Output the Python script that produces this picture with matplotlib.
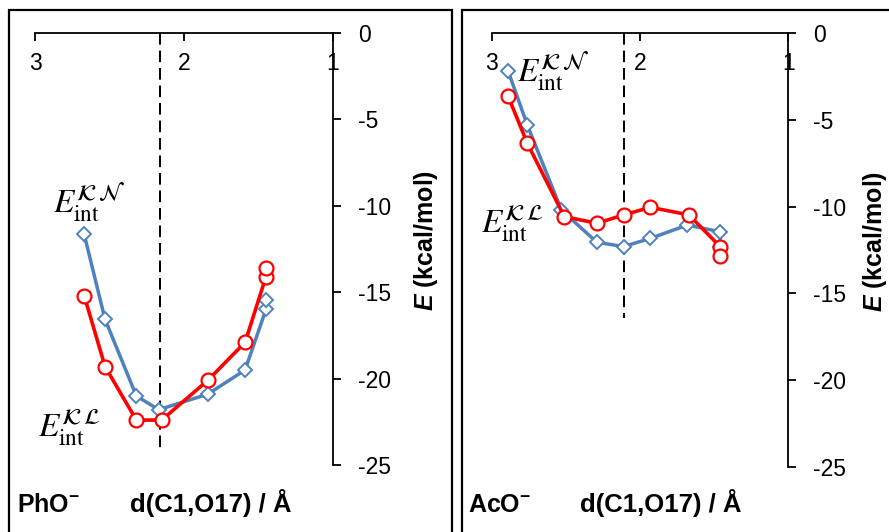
import matplotlib
matplotlib.use("Agg")
import matplotlib.pyplot as plt
from matplotlib.patches import Rectangle

plt.rcParams['font.family'] = ['Liberation Sans', 'DejaVu Sans']
plt.rcParams['mathtext.fontset'] = 'custom'
plt.rcParams['mathtext.it'] = 'Liberation Sans:italic:bold'
plt.rcParams['mathtext.rm'] = 'Liberation Sans:bold'
plt.rcParams['mathtext.bf'] = 'Liberation Sans:bold'

# PhO- panel
pho_x_kn = [2.67, 2.53, 2.32, 2.17, 1.84, 1.59, 1.45, 1.45]
pho_e_kn = [-11.65, -16.57, -21.0, -21.8, -20.9, -19.5, -16.0, -15.45]
pho_x_kl = [2.67, 2.53, 2.32, 2.15, 1.84, 1.59, 1.45, 1.45]
pho_e_kl = [-15.2, -19.3, -22.4, -22.4, -20.1, -17.9, -14.1, -13.6]
pho_ts = 2.16
pho_ts_bottom = -24.1

# AcO- panel
aco_x_kn = [2.89, 2.76, 2.53, 2.29, 2.11, 1.93, 1.68, 1.46, 1.46]
aco_e_kn = [-2.17, -5.3, -10.2, -12.06, -12.3, -11.83, -11.06, -11.45, -12.3]
aco_x_kl = [2.89, 2.76, 2.51, 2.29, 2.11, 1.93, 1.67, 1.46, 1.46]
aco_e_kl = [-3.63, -6.35, -10.58, -10.96, -10.48, -10.04, -10.48, -12.3, -12.83]
aco_ts = 2.105
aco_ts_bottom = -16.4

x_ticks = [3, 2, 1]
y_ticks = [0, -5, -10, -15, -20, -25]

lbl_kn = r'$E_{\mathrm{int}}^{\mathcal{K}\,\mathcal{N}}$'
lbl_kl = r'$E_{\mathrm{int}}^{\mathcal{K}\,\mathcal{L}}$'

BLUE = '#4F81BD'
RED = '#FF0000'

fig = plt.figure(figsize=(8.89, 5.32), dpi=100)

# panel frames
fig.patches.append(Rectangle((8.5 / 889, -0.1), (451.5 - 8.5) / 889, 1.1 - 10.5 / 532,
                             transform=fig.transFigure, fill=False, lw=1.6, ec='black'))
fig.patches.append(Rectangle((462 / 889, -0.1), 0.6, 1.1 - 10.5 / 532,
                             transform=fig.transFigure, fill=False, lw=1.6, ec='black'))


def panel(rect, xs_kn, es_kn, xs_kl, es_kl, ts, ts_bottom, kn_pos, kl_pos, ylabel_x):
    ax = fig.add_axes(rect)
    ax.set_xlim(3, 1)
    ax.set_ylim(-25, 0)
    ax.patch.set_alpha(0)
    for s in ['left', 'top']:
        ax.spines[s].set_visible(False)
    ax.spines['bottom'].set_position(('data', 0))
    ax.spines['bottom'].set_linewidth(1.3)
    ax.spines['right'].set_linewidth(1.3)
    ax.yaxis.tick_right()
    ax.yaxis.set_label_position('right')
    ax.set_xticks(x_ticks)
    ax.set_yticks(y_ticks)
    ax.set_yticklabels([str(v) for v in y_ticks])
    ax.tick_params(axis='x', direction='out', length=6, width=1.3, pad=8, labelsize=16.5)
    ax.tick_params(axis='y', direction='out', length=6, width=1.3, pad=12, labelsize=16.5)

    ax.plot([ts, ts], [0, ts_bottom], color='black', lw=1.4, ls=(0, (6, 3)), zorder=2)
    ax.plot(xs_kn, es_kn, color=BLUE, lw=2.5, marker='D', ms=7.5, mfc='white',
            mec=BLUE, mew=1.4, zorder=3, clip_on=False)
    ax.plot(xs_kl, es_kl, color=RED, lw=2.6, marker='o', ms=10, mfc='white',
            mec=RED, mew=1.6, zorder=4, clip_on=False)

    ax.text(kn_pos[0], kn_pos[1], lbl_kn, fontsize=24, math_fontfamily='stix',
            ha='left', va='baseline', zorder=5)
    ax.text(kl_pos[0], kl_pos[1], lbl_kl, fontsize=24, math_fontfamily='stix',
            ha='left', va='baseline', zorder=5)

    ax.set_ylabel(r'$E$ (kcal/mol)', fontsize=18, fontweight='bold', rotation=90)
    ax.yaxis.set_label_coords(ylabel_x, 0.52)
    return ax


panel([35 / 889, 1 - 465 / 532, 298 / 889, 432 / 532],
      pho_x_kn, pho_e_kn, pho_x_kl, pho_e_kl, pho_ts, pho_ts_bottom,
      (2.88, -10.4), (2.98, -23.4), 1.265)
panel([491.7 / 889, 1 - 467 / 532, 296.6 / 889, 434 / 532],
      aco_x_kn, aco_e_kn, aco_x_kl, aco_e_kl, aco_ts, aco_ts_bottom,
      (2.83, -2.8), (3.07, -11.5), 1.245)

fig.text(17 / 889, 1 - 505 / 532, r'PhO$^{-}$', fontsize=18, fontweight='bold',
         ha='left', va='center')
fig.text(211 / 889, 1 - 503 / 532, 'd(C1,O17) / Å', fontsize=18.5, fontweight='bold',
         ha='center', va='center')
fig.text(468 / 889, 1 - 505 / 532, r'AcO$^{-}$', fontsize=18, fontweight='bold',
         ha='left', va='center')
fig.text(661 / 889, 1 - 503 / 532, 'd(C1,O17) / Å', fontsize=18.5, fontweight='bold',
         ha='center', va='center')

fig.savefig('out.png', dpi=100)
